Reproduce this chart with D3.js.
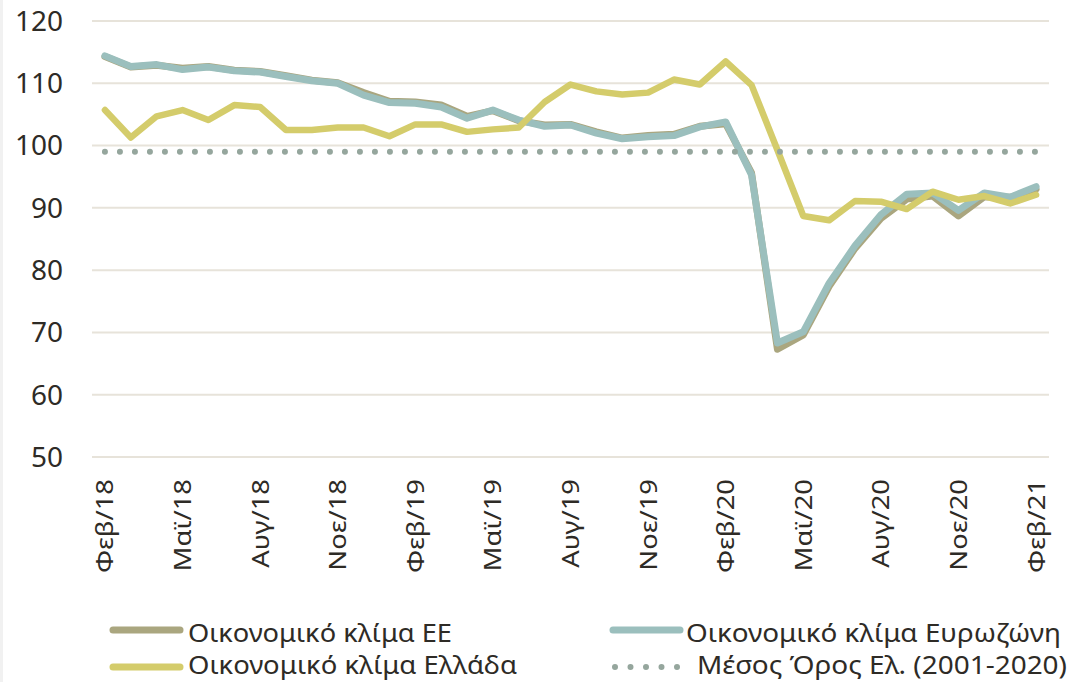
<!DOCTYPE html>
<html>
<head>
<meta charset="utf-8">
<script src="https://cdn.jsdelivr.net/npm/d3@7"></script>
<style>
  html, body { margin: 0; padding: 0; background: #fff; }
  svg { display: block; }
  .tick-y { font-family: "Noto Sans", sans-serif; font-size: 28px; fill: #2e2b26; }
  .tick-x { font-family: "Noto Sans", sans-serif; font-size: 24px; fill: #2e2b26; }
  .legend { font-family: "Noto Sans", sans-serif; font-size: 26px; fill: #2e2b26; }
</style>
</head>
<body>
<svg id="chart" width="1074" height="682"></svg>
<script>
// months Feb/18 .. Feb/21
const months = ["Φεβ/18","Μαρ/18","Απρ/18","Μαϊ/18","Ιουν/18","Ιουλ/18","Αυγ/18","Σεπ/18","Οκτ/18","Νοε/18","Δεκ/18","Ιαν/19",
  "Φεβ/19","Μαρ/19","Απρ/19","Μαϊ/19","Ιουν/19","Ιουλ/19","Αυγ/19","Σεπ/19","Οκτ/19","Νοε/19","Δεκ/19","Ιαν/20",
  "Φεβ/20","Μαρ/20","Απρ/20","Μαϊ/20","Ιουν/20","Ιουλ/20","Αυγ/20","Σεπ/20","Οκτ/20","Νοε/20","Δεκ/20","Ιαν/21","Φεβ/21"]

const euValues = [114.3,112.6,112.9,112.4,112.7,112.1,111.9,111.2,110.5,110.1,108.5,107.1,107.0,106.5,104.7,105.6,104.0,103.3,103.4,102.2,101.2,101.6,101.8,103.1,103.5,95.6,67.3,69.6,77.4,83.5,88.3,91.4,91.9,88.7,91.8,91.7,93.0]
const euroValues = [114.4,112.7,113.0,112.2,112.6,112.0,111.8,111.1,110.4,110.0,108.1,106.9,106.8,106.2,104.4,105.7,104.1,103.1,103.3,102.0,101.1,101.4,101.6,103.0,103.8,95.3,68.3,70.1,77.9,83.9,88.9,92.2,92.4,89.6,92.4,91.7,93.4]
const greeceValues = [105.7,101.3,104.7,105.7,104.1,106.5,106.2,102.5,102.5,102.9,102.9,101.5,103.4,103.4,102.2,102.6,102.9,107.0,109.8,108.7,108.2,108.5,110.6,109.8,113.5,109.7,99.3,88.7,88.0,91.1,91.0,89.8,92.6,91.3,91.9,90.7,92.1]
const avgValue = 99.0

const yTicks = [50, 60, 70, 80, 90, 100, 110, 120]

const COLORS = { eu: "#aaa67f", euro: "#9bbfbd", greece: "#d4cc6b", avg: "#95a69d", grid: "#e7e3da" }

const svg = d3.select("#chart")

// thin grey strip on the left edge
svg.append("rect").attr("x", 0).attr("y", 0).attr("width", 3).attr("height", 682).attr("fill", "#f1f1f1")

const x = d3.scalePoint().domain(months).range([92, 1049]).padding(0.5)
const y = d3.scaleLinear().domain([50, 120]).range([457, 21])

// gridlines
svg.append("g")
  .selectAll("line")
  .data(yTicks)
  .join("line")
  .attr("x1", 92).attr("x2", 1049)
  .attr("y1", d => y(d)).attr("y2", d => y(d))
  .attr("stroke", COLORS.grid).attr("stroke-width", 2)

// y axis labels
svg.append("g")
  .selectAll("text")
  .data(yTicks)
  .join("text")
  .attr("class", "tick-y")
  .attr("x", 63).attr("y", d => y(d))
  .attr("dy", "0.35em")
  .attr("text-anchor", "end")
  .text(d => d)

// x axis labels, every third month
svg.append("g")
  .selectAll("text")
  .data(months.filter((m, i) => i % 3 === 0))
  .join("text")
  .attr("class", "tick-x")
  .attr("transform", d => `translate(${x(d) + 8.5},479) rotate(-90) scale(1.14,1)`)
  .attr("text-anchor", "end")
  .text(d => d)

const line = d3.line().x((d, i) => x(months[i])).y(d => y(d))

const series = [
  { key: "eu", values: euValues, width: 7 },
  { key: "euro", values: euroValues, width: 7 },
  { key: "greece", values: greeceValues, width: 6.5 }
]

svg.append("g")
  .selectAll("path")
  .data(series)
  .join("path")
  .attr("d", d => line(d.values))
  .attr("fill", "none")
  .attr("stroke", d => COLORS[d.key])
  .attr("stroke-width", d => d.width)
  .attr("stroke-linejoin", "round")
  .attr("stroke-linecap", "round")

// long-run average, dotted
svg.append("path")
  .attr("d", line(months.map(() => avgValue)))
  .attr("fill", "none")
  .attr("stroke", COLORS.avg)
  .attr("stroke-width", 6)
  .attr("stroke-linecap", "round")
  .attr("stroke-dasharray", "0 15")

// legend (text widths stretched to match the original)
const legendItems = [
  { label: "Οικονομικό κλίμα ΕΕ", color: COLORS.eu, x: 110, y: 630, ty: 642, dotted: false, tx: 188, len: 264 },
  { label: "Οικονομικό κλίμα Ευρωζώνη", color: COLORS.euro, x: 610, y: 630, ty: 642, dotted: false, tx: 686, len: 375 },
  { label: "Οικονομικό κλίμα Ελλάδα", color: COLORS.greece, x: 110, y: 667, ty: 674, dotted: false, tx: 188, len: 329 },
  { label: "Μέσος Όρος Ελ. (2001-2020)", color: COLORS.avg, x: 612, y: 667, ty: 674, dotted: true, tx: 697, len: 370 }
]

const lg = svg.append("g")
legendItems.forEach(it => {
  const sw = lg.append("line")
    .attr("x1", it.x + 3).attr("x2", it.x + 70)
    .attr("y1", it.y).attr("y2", it.y)
    .attr("stroke", it.color)
    .attr("stroke-width", it.dotted ? 6 : 7)
    .attr("stroke-linecap", "round")
  if (it.dotted) sw.attr("x2", it.x + 68).attr("stroke-dasharray", "0 15.5")
  lg.append("text")
    .attr("class", "legend")
    .attr("x", it.tx).attr("y", it.ty)
    .attr("textLength", it.len)
    .attr("lengthAdjust", "spacingAndGlyphs")
    .text(it.label)
})
</script>
</body>
</html>
